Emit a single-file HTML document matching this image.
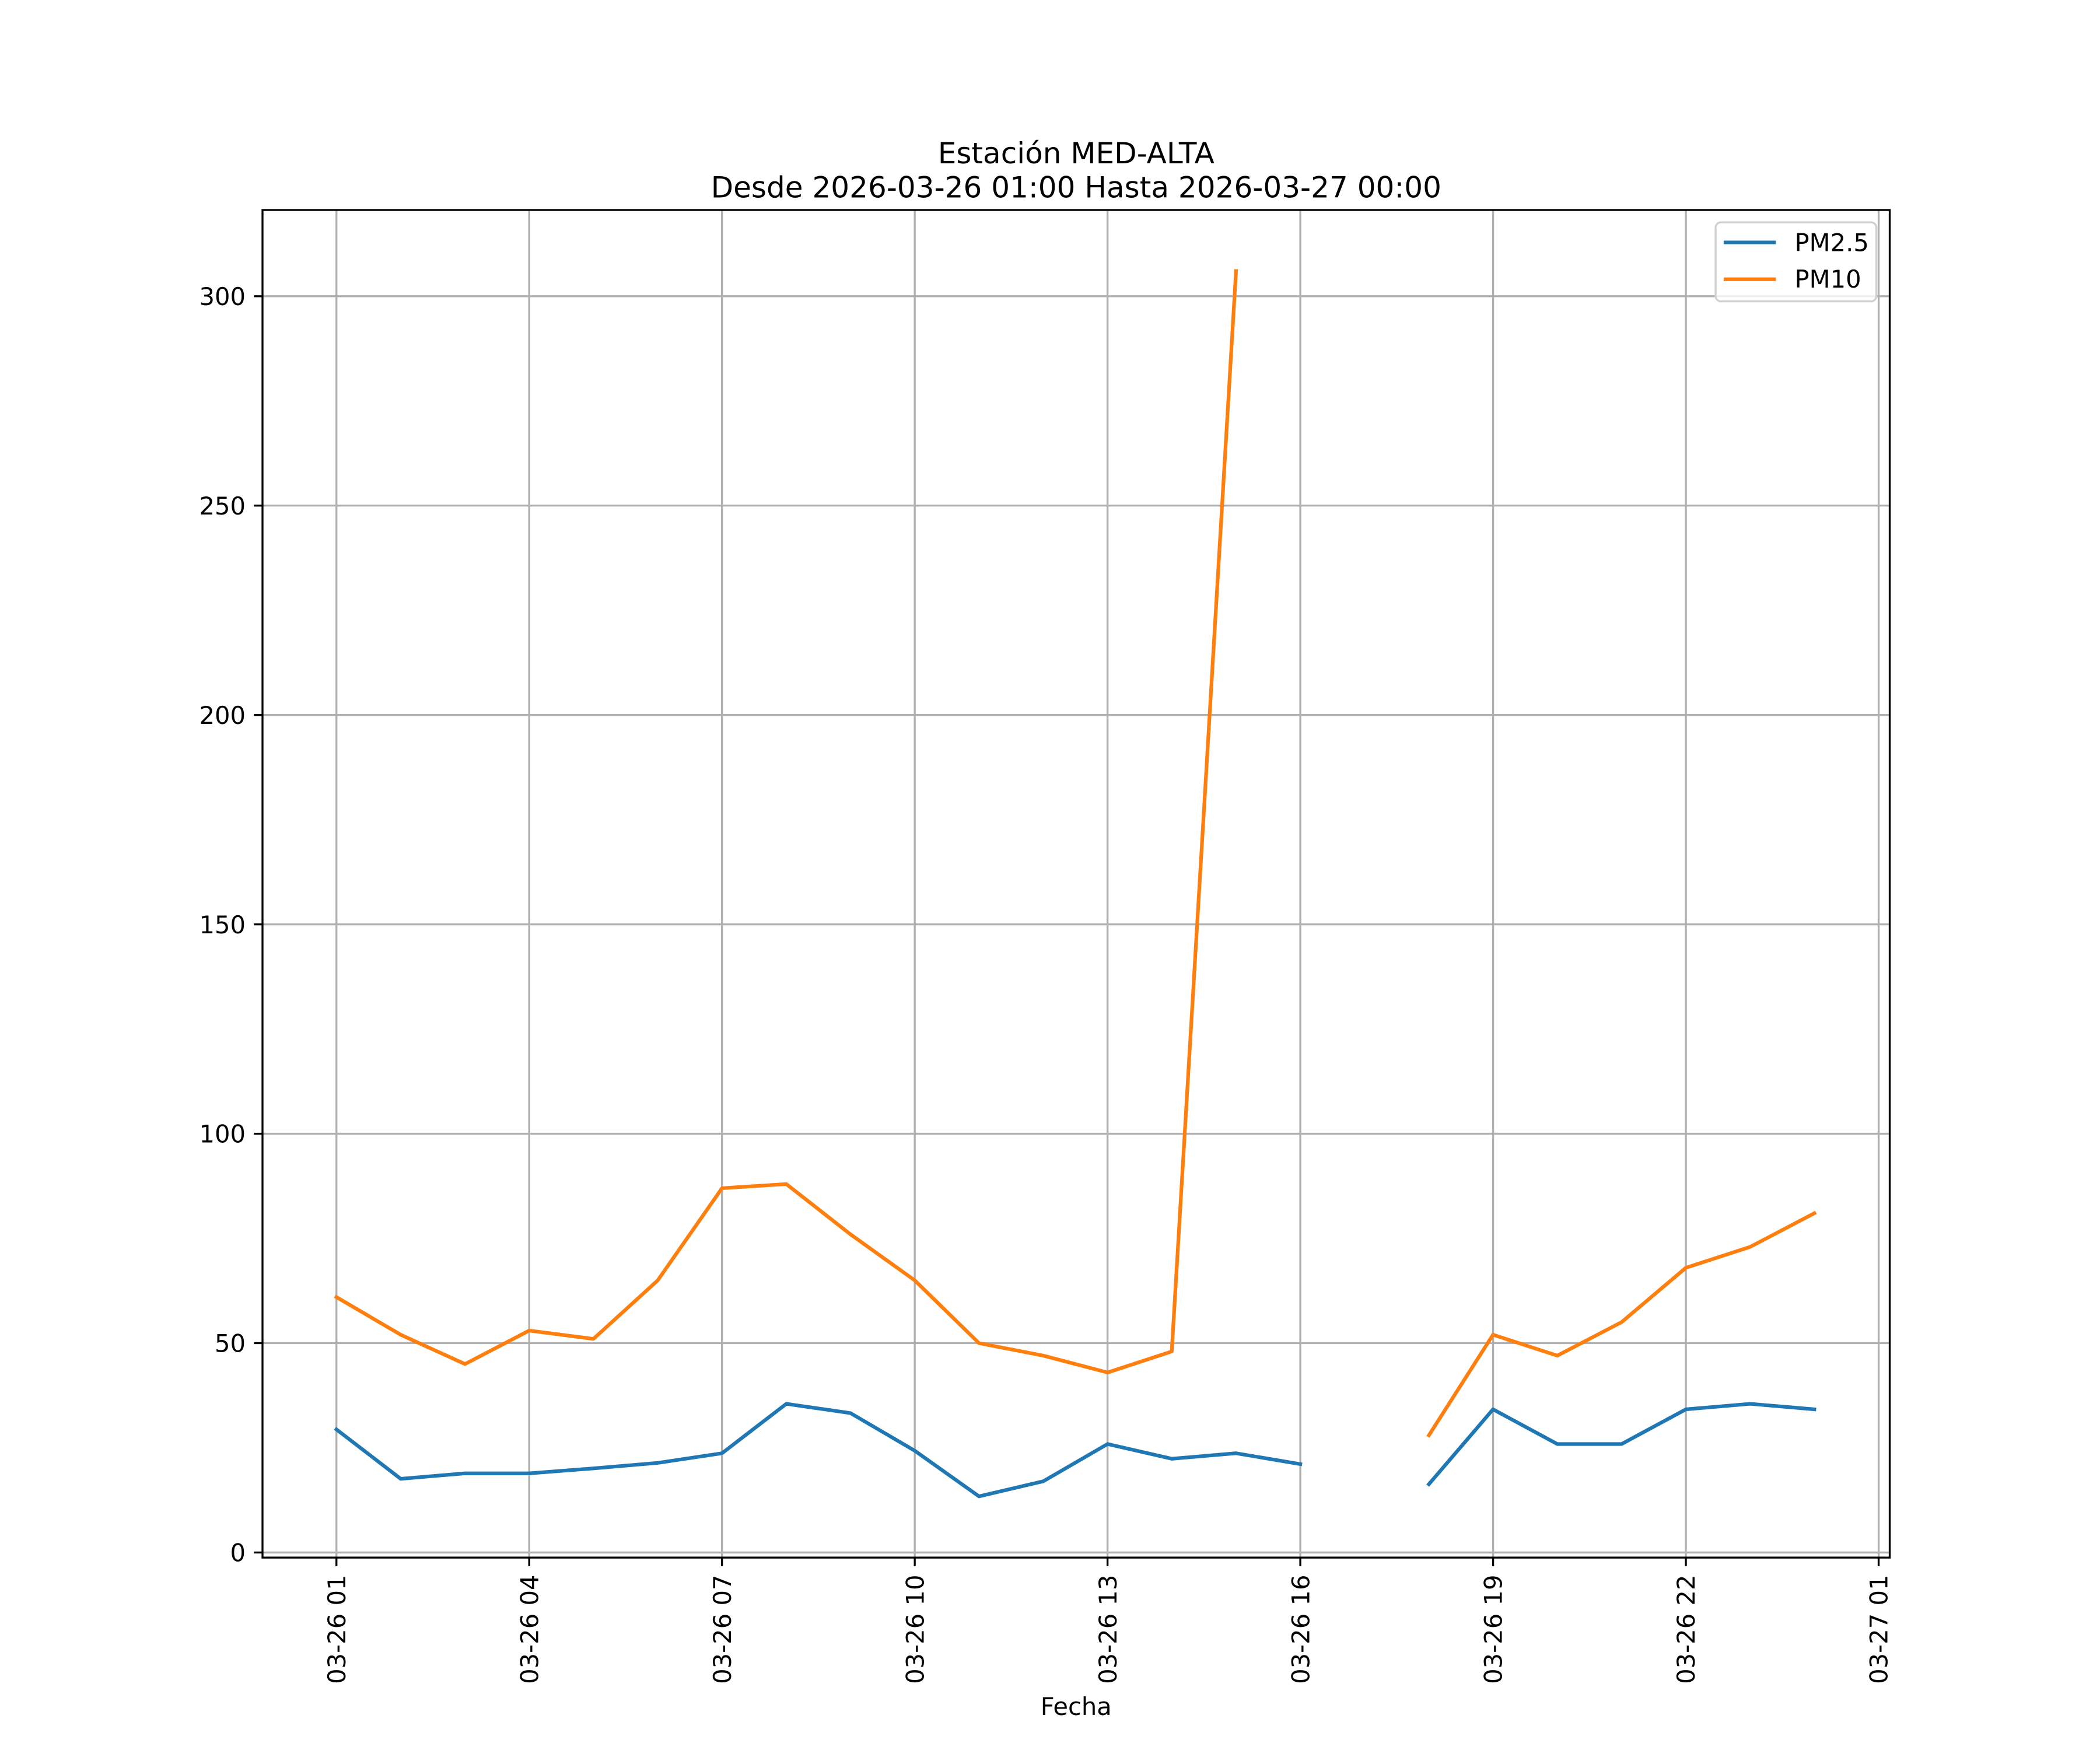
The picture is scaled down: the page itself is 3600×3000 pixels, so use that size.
<!DOCTYPE html>
<html><head><meta charset="utf-8">
<style>
html,body{margin:0;padding:0;background:#fff;}
svg{display:block;font-family:"DejaVu Sans","Liberation Sans",sans-serif;}
</style></head>
<body>
<svg id="chart" width="3600" height="3000" viewBox="0 0 1568 1306.67" xmlns="http://www.w3.org/2000/svg">
<rect width="1568" height="1306.67" fill="#fff"/>
<text x="803.5" y="122" font-size="21.8" text-anchor="middle">Estación MED-ALTA</text>
<text x="803.5" y="147.5" font-size="21.8" text-anchor="middle">Desde 2026-03-26 01:00 Hasta 2026-03-27 00:00</text>
<g id="grid"></g>
<g id="series"></g>
<rect x="196" y="156.8" width="1215" height="1006.2" fill="none" stroke="#000" stroke-width="1.45"/>
<g id="axes"></g>
<text x="803.5" y="1280.5" font-size="18.15" text-anchor="middle">Fecha</text>
<g>
<rect x="1281" y="166" width="120" height="59" rx="4" fill="#fff" fill-opacity="0.8" stroke="#d0d0d0" stroke-width="1.45"/>
<line x1="1287" y1="181" x2="1326" y2="181" stroke="#1f77b4" stroke-width="2.72"/>
<text x="1340" y="187.6" font-size="18.15">PM2.5</text>
<line x1="1287" y1="208.5" x2="1326" y2="208.5" stroke="#ff7f0e" stroke-width="2.72"/>
<text x="1340" y="214.7" font-size="18.15">PM10</text>
</g>
</svg>
<script>
const hours = [1,2,3,4,5,6,7,8,9,10,11,12,13,14,15,16,17,18,19,20,21,22,23,24];
const pm25 = [29.4,17.6,18.9,18.9,20.1,21.4,23.7,35.5,33.3,24.3,13.4,17.0,25.9,22.4,23.7,21.1,null,16.3,34.2,25.9,25.9,34.2,35.5,34.2];
const pm10 = [61,52,45,53,51,65,87,88,76,65,50,47,43,48,306,null,null,28,52,47,55,68,73,81];
const yTicks = [0,50,100,150,200,250,300];
const xTickHours = [1,4,7,10,13,16,19,22,25];
const xTickLabels = ["03-26 01","03-26 04","03-26 07","03-26 10","03-26 13","03-26 16","03-26 19","03-26 22","03-27 01"];

const NS="http://www.w3.org/2000/svg";
function xs(h){return 251.2+(h-1)*47.98;}
function ys(v){return 1159.2-v*3.1267;}
function mk(tag,attrs,parent){const e=document.createElementNS(NS,tag);for(const k in attrs)e.setAttribute(k,attrs[k]);parent.appendChild(e);return e;}
const grid=document.getElementById('grid'),axes=document.getElementById('axes'),series=document.getElementById('series');

yTicks.forEach(v=>{
  const y=ys(v);
  const g=mk('line',{x1:196,x2:1411,y1:y,y2:y,stroke:'#b0b0b0','stroke-width':1.45},grid);
  
  
  mk('line',{x1:189.6,x2:196,y1:y,y2:y,stroke:'#000','stroke-width':1.45},axes);
  const t=mk('text',{x:183.4,y:y+6.6,'font-size':18.15,'text-anchor':'end'},axes);
  t.textContent=String(v);
  
  
});
xTickHours.forEach((h,i)=>{
  const x=xs(h);
  const g=mk('line',{x1:x,x2:x,y1:156.8,y2:1163,stroke:'#b0b0b0','stroke-width':1.45},grid);
  
  
  mk('line',{x1:x,x2:x,y1:1163,y2:1169.4,stroke:'#000','stroke-width':1.45},axes);
  const t=mk('text',{x:0,y:0,'font-size':18.15,'text-anchor':'end',transform:`translate(${x+6.6},1175.8) rotate(-90)`},axes);
  t.textContent=xTickLabels[i];
  
  
});

function drawSeries(vals,color,name){
  let segs=[],cur=[];
  vals.forEach((v,i)=>{
    if(v===null){if(cur.length)segs.push(cur);cur=[];}
    else cur.push(xs(hours[i]).toFixed(1)+','+ys(v).toFixed(1));
  });
  if(cur.length)segs.push(cur);
  segs.forEach(s=>{
    const p=mk('polyline',{points:s.join(' '),fill:'none',stroke:color,'stroke-width':2.72,'stroke-linejoin':'round','stroke-linecap':'square'},series);
    
    
  });
}
drawSeries(pm10,'#ff7f0e','pm10-line');
drawSeries(pm25,'#1f77b4','pm25-line');
</script>
</body></html>
